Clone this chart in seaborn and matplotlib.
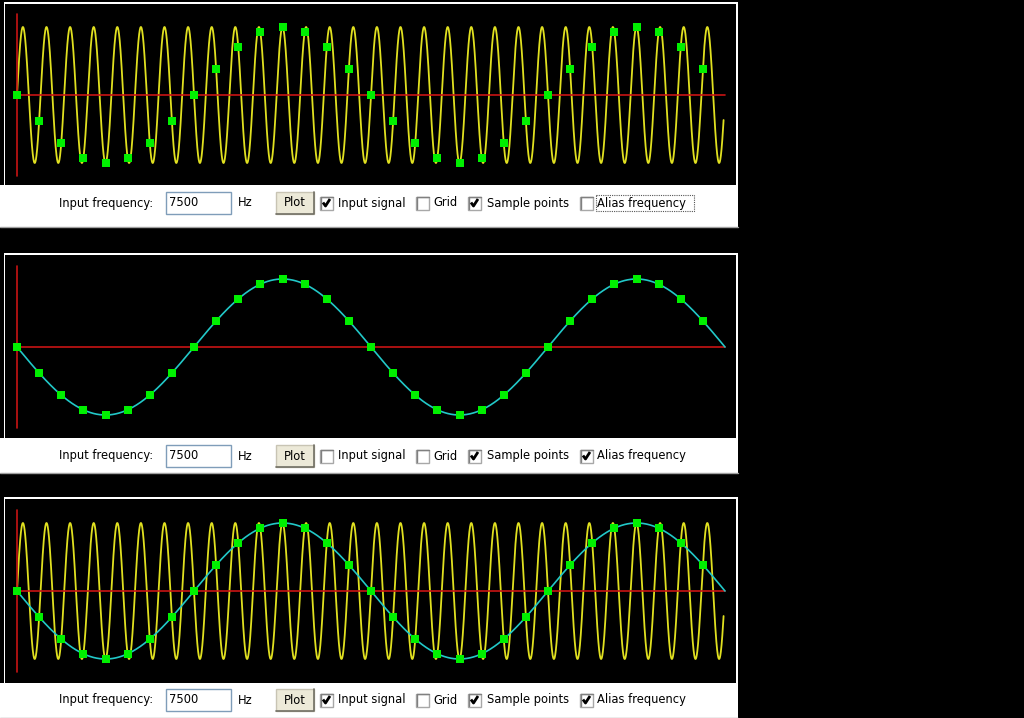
import numpy as np
import pandas as pd
import matplotlib
matplotlib.use("Agg")
import matplotlib.pyplot as plt
import seaborn as sns
from matplotlib.patches import Rectangle

# ---------------- data ----------------
input_frequency_hz = 7500
sample_rate_hz = 8000
window_ms = 4.0
input_end_ms = 3.992
# sample values read from the green points (32 samples, 0.125 ms apart)
sample_values = [0.0, -0.38, -0.71, -0.92, -1.0, -0.92, -0.71, -0.38,
                 0.0, 0.38, 0.71, 0.92, 1.0, 0.92, 0.71, 0.38,
                 0.0, -0.38, -0.71, -0.92, -1.0, -0.92, -0.71, -0.38,
                 0.0, 0.38, 0.71, 0.92, 1.0, 0.92, 0.71, 0.38]
frequency_text = "7500"
unit_text = "Hz"
button_text = "Plot"
field_label = "Input frequency:"
control_labels = ["Input signal", "Grid", "Sample points", "Alias frequency"]
# checkbox states per panel: input, grid, samples, alias
panel_checks = [[True, False, True, False],
                [False, False, True, True],
                [True, False, True, True]]

# ---------------- derived series ----------------
sample_times_ms = np.arange(len(sample_values)) * 1000.0 / sample_rate_hz
t_in = np.linspace(0, input_end_ms, 8000)
input_df = pd.DataFrame({"t": t_in,
                         "v": np.sin(2 * np.pi * input_frequency_hz * t_in / 1000.0)})
t_al = np.linspace(0, window_ms, 2000)
alias_df = pd.DataFrame({"t": t_al,
                         "v": np.sin(2 * np.pi * (input_frequency_hz - sample_rate_hz) * t_al / 1000.0)})
samples_df = pd.DataFrame({"t": sample_times_ms, "v": sample_values})

# ---------------- figure ----------------
sns.set_style("white")
plt.rcParams["font.family"] = ["DejaVu Sans"]
W, H = 1024, 718
fig = plt.figure(figsize=(W / 100, H / 100), dpi=100, facecolor="black")

bg = fig.add_axes([0, 0, 1, 1], zorder=0)
bg.set_xlim(0, W)
bg.set_ylim(H, 0)
bg.axis("off")
bg.set_facecolor("black")

PX_PER_MS = 177.0
X0 = 17.0
AMP = 68.0

panels = [
    dict(top=4, bottom=185, center=95, frame_top=2, strip_bottom=227, ctl_y=203),
    dict(top=255, bottom=438, center=347, frame_top=253, strip_bottom=473, ctl_y=456),
    dict(top=499, bottom=683, center=591, frame_top=497, strip_bottom=718, ctl_y=700),
]

YELLOW = "#E0E020"
RED = "#C81414"
CYAN = "#22C8C8"
GREEN = "#00F000"
TXT = 8.3


def checkbox(x, y, checked):
    bg.add_patch(Rectangle((x, y - 6.5), 13, 13, facecolor="white",
                           edgecolor="#a8a8a8", lw=1.0, zorder=3))
    bg.plot([x + 0.5, x + 12.5], [y - 6, y - 6], color="#808080", lw=1, zorder=4)
    bg.plot([x + 0.5, x + 0.5], [y - 6, y + 6], color="#808080", lw=1, zorder=4)
    if checked:
        bg.plot([x + 3, x + 5.5, x + 10], [y - 0.5, y + 3, y - 4],
                color="black", lw=2.0, solid_capstyle="butt", zorder=5)


for pi, p in enumerate(panels):
    checks = panel_checks[pi]
    # white strip + frame
    bg.add_patch(Rectangle((0, p["bottom"]), 738, p["strip_bottom"] - p["bottom"],
                           facecolor="white", edgecolor="none", zorder=1))
    bg.add_patch(Rectangle((3.5, p["frame_top"]), 734, p["bottom"] - p["frame_top"] + 1,
                           facecolor="white", edgecolor="none", zorder=1))
    bg.plot([0, 738], [p["strip_bottom"] - 0.5] * 2, color="#a0a0a0", lw=1, zorder=2)

    # plot axes
    ax = fig.add_axes([5 / W, 1 - p["bottom"] / H, 731 / W, (p["bottom"] - p["top"]) / H], zorder=2)
    ax.set_facecolor("black")
    ax.set_xlim((5 - X0) / PX_PER_MS, (736 - X0) / PX_PER_MS)
    ax.set_ylim(-(p["bottom"] - p["center"]) / AMP, (p["center"] - p["top"]) / AMP)
    ax.set_xticks([])
    ax.set_yticks([])
    for s in ax.spines.values():
        s.set_visible(False)

    if checks[0]:
        sns.lineplot(data=input_df, x="t", y="v", ax=ax, color=YELLOW, lw=1.3,
                     estimator=None, sort=False, zorder=2)
    ax.plot([0, window_ms], [0, 0], color=RED, lw=1.2, zorder=3)
    ax.plot([0, 0], [-1.19, 1.19], color=RED, lw=1.2, zorder=3)
    if checks[3]:
        sns.lineplot(data=alias_df, x="t", y="v", ax=ax, color=CYAN, lw=1.2,
                     estimator=None, sort=False, zorder=4)
    if checks[2]:
        sns.scatterplot(data=samples_df, x="t", y="v", ax=ax, color=GREEN,
                        marker="s", s=30, linewidth=0, zorder=5)
    ax.set_xlabel("")
    ax.set_ylabel("")

    # controls
    cy = p["ctl_y"]
    bg.text(59, cy, field_label, fontsize=TXT, va="center", ha="left", color="black", zorder=6)
    bg.add_patch(Rectangle((165.5, cy - 11), 65, 22, facecolor="white",
                           edgecolor="#7F9DB9", lw=1.0, zorder=3))
    bg.text(169, cy - 0.5, frequency_text, fontsize=TXT, va="center", ha="left", color="black", zorder=6)
    bg.text(238, cy, unit_text, fontsize=TXT, va="center", ha="left", color="black", zorder=6)
    bg.add_patch(Rectangle((275.5, cy - 11), 38, 22, facecolor="#ECE9D8",
                           edgecolor="#c8c4b4", lw=1.0, zorder=3))
    bg.plot([276, 313.5, 313.5], [cy + 11, cy + 11, cy - 11], color="#716F64", lw=1.2, zorder=4)
    bg.text(294.5, cy, button_text, fontsize=TXT, va="center", ha="center", color="black", zorder=6)

    box_x = [320, 416, 468, 580]
    lab_x = [338, 433, 487, 597]
    for k in range(4):
        checkbox(box_x[k], cy, checks[k])
        bg.text(lab_x[k], cy, control_labels[k], fontsize=TXT, va="center", ha="left",
                color="black", zorder=6)
    if pi == 0:
        bg.add_patch(Rectangle((595.5, cy - 8), 98, 16, facecolor="none",
                               edgecolor="#555555", lw=0.8, ls=(0, (1, 1)), zorder=6))

fig.savefig("out.png", dpi=100, facecolor="black")
